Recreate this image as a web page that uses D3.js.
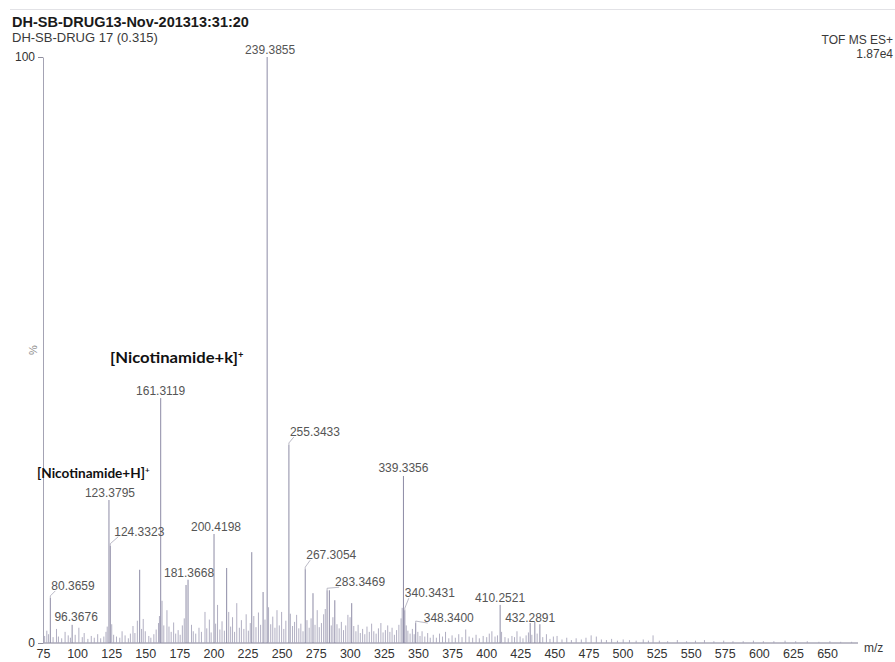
<!DOCTYPE html>
<html>
<head>
<meta charset="utf-8">
<script src="https://cdn.jsdelivr.net/npm/d3@7"></script>
<style>
body { margin: 0; background: #fff; }
svg text { font-family: "Liberation Sans", Arial, sans-serif; }
</style>
</head>
<body>
<div id="svgDiv"></div>
<script>
//header texts
var titleText = "DH-SB-DRUG13-Nov-201313:31:20";
var subText = "DH-SB-DRUG 17 (0.315)";
var modeText = "TOF MS ES+";
var scaleText = "1.87e4";

//axis ticks
var xTicks = [75, 100, 125, 150, 175, 200, 225, 250, 275, 300, 325, 350, 375, 400, 425, 450, 475, 500, 525, 550, 575, 600, 625, 650];
var yTicks = [0, 100];

//labelled and major peaks  [m/z, relative intensity %]
var mainPeaks = [
    [80.3659, 7.7], [96.3676, 3.1], [123.3795, 24.4], [124.3323, 16.6], [145.9, 12.5],
    [161.3119, 41.8], [179.9, 9.9], [181.3668, 10.8], [200.4198, 18.6], [209.7, 12.8],
    [228.1, 15.5], [236.4, 8.7], [239.3855, 100], [255.3433, 33.8], [267.3054, 12.6],
    [273.0, 8.5], [283.3469, 9.0], [285.0, 9.0], [289.0, 7.3], [301.4, 6.8],
    [339.3356, 28.5], [340.3431, 5.6], [348.3400, 3.4], [410.2521, 6.5],
    [432.2891, 3.4], [435.7, 3.6], [439.4, 3.2]
];

//small noise peaks  [m/z, %]
var minorPeaks = [
    [76.2,1.2],[77.8,2.1],[79.1,1.5],[82.4,1.0],[84.9,2.4],[86.3,1.1],[88.7,0.8],[91.2,1.9],[93.5,1.3],[95.1,0.9],
    [98.6,1.4],[101.3,2.6],[103.8,1.0],[105.2,1.7],[107.9,0.7],[110.4,1.2],[112.6,0.9],[115.1,1.5],[117.3,0.8],[119.6,1.1],
    [121.2,1.9],[122.1,2.8],[125.4,3.2],[126.8,1.4],[128.9,1.1],[131.3,0.9],[133.0,2.0],[135.2,1.3],[137.6,0.8],[139.1,1.6],
    [141.0,2.9],[142.4,1.7],[144.2,3.8],[147.3,2.4],[148.5,4.1],[150.0,2.0],[152.6,1.2],[154.1,0.9],[156.3,1.5],[158.0,2.3],
    [159.7,3.4],[160.4,4.6],[162.3,7.2],[163.6,3.0],[165.9,5.6],[167.4,2.8],[169.0,1.9],[170.8,3.5],[172.3,1.6],[174.1,2.2],
    [175.6,1.4],[177.2,3.0],[178.6,4.2],[183.9,3.1],[185.2,2.0],[187.0,1.6],[189.4,2.6],[191.2,1.9],[193.8,5.3],[195.1,2.5],
    [197.0,4.0],[198.3,1.8],[201.6,3.3],[203.0,6.5],[204.7,2.3],[206.3,3.7],[208.0,2.1],[211.2,5.3],[212.6,2.8],[214.0,4.4],
    [215.5,1.9],[217.1,6.8],[219.0,2.6],[220.5,3.9],[222.3,2.4],[224.0,4.9],[225.6,2.1],[227.0,3.4],[229.6,4.6],[231.2,2.7],
    [233.0,5.2],[234.6,3.1],[237.8,4.0],[240.4,6.1],[242.0,3.2],[243.5,4.5],[245.1,2.6],[246.6,5.6],[248.3,3.0],[250.0,5.3],
    [251.6,2.4],[253.1,3.8],[256.4,5.0],[258.0,2.9],[259.5,3.6],[261.0,4.8],[262.6,2.5],[264.1,3.3],[265.7,2.0],[268.6,3.9],
    [270.2,2.6],[271.6,4.2],[274.5,3.1],[276.1,5.6],[277.6,2.7],[279.2,3.4],[280.8,4.9],[282.0,5.8],[286.4,3.0],[287.6,4.4],
    [290.6,3.2],[292.2,2.5],[293.8,3.6],[295.4,2.2],[297.0,3.0],[298.6,4.8],[300.2,4.4],[302.9,2.9],[304.5,2.0],[306.1,3.1],
    [307.7,1.7],[309.4,2.4],[311.0,1.5],[312.6,2.8],[314.3,1.9],[316.0,3.3],[317.6,2.0],[319.3,1.6],[321.0,2.5],[322.8,3.4],
    [324.4,1.8],[326.1,2.2],[327.8,3.0],[329.4,1.9],[331.0,2.6],[332.7,1.4],[334.3,2.2],[336.0,3.1],[337.6,4.2],[338.4,6.0],
    [341.4,3.0],[342.6,2.1],[344.2,1.6],[345.9,2.4],[347.2,1.5],[349.9,1.9],[351.5,1.2],[353.0,2.0],[355.0,1.1],[357.1,1.7],
    [359.0,0.9],[361.2,1.4],[363.5,0.9],[365.8,1.6],[368.0,1.1],[370.2,1.9],[372.6,0.8],[375.0,1.3],[377.4,0.9],[379.9,1.5],
    [382.3,1.0],[385.0,2.3],[387.5,1.1],[390.1,0.9],[392.6,1.4],[395.0,0.8],[397.8,1.2],[400.4,1.0],[402.3,1.6],[404.2,2.0],
    [406.5,1.1],[408.3,1.3],[411.3,1.9],[413.8,1.0],[416.2,0.8],[418.9,1.2],[420.8,1.0],[422.6,2.0],[424.9,1.1],[427.0,0.8],
    [429.3,1.3],[431.0,1.8],[433.5,1.4],[437.4,1.6],[441.5,1.0],[444.2,1.5],[446.8,0.7],[449.3,1.1],[452.0,1.2],[455.6,0.6],
    [459.1,0.9],[462.5,0.5],[466.0,0.8],[469.8,0.6],[473.2,0.9],[477.0,1.3],[480.8,1.1],[484.5,0.6],[488.2,0.5],[492.0,0.7],
    [496.3,0.4],[500.5,0.6],[505.1,0.5],[510.0,0.4],[515.2,0.6],[519.0,0.4],[522.4,1.3],[527.0,0.4],[533.1,0.3],[540.2,0.5],
    [547.0,0.3],[553.5,0.4],[560.1,0.5],[567.0,0.3],[574.2,0.4],[581.0,0.3],[588.5,0.3],[596.0,0.4],[603.3,0.3],[611.0,0.3],
    [619.2,0.4],[627.0,0.3],[635.5,0.3],[644.0,0.2],[652.1,0.3],[660.0,0.2],[668.0,0.2]
];

//peaks that carry an m/z label
var labelledMz = [239.3855, 161.3119, 255.3433, 339.3356, 123.3795, 124.3323, 200.4198, 181.3668,
                  267.3054, 283.3469, 340.3431, 348.3400, 410.2521, 432.2891, 80.3659, 96.3676];

//annotations  [text, m/z of the peak they name]
var annotations = [["[Nicotinamide+k]", 161.3119], ["[Nicotinamide+H]", 123.3795]];

//label placement relative to peak top (layout only)
var labelLayout = {
    "239.3855": {anchor: "middle", dx: 3, dy: -7},
    "161.3119": {anchor: "middle", dx: 0, dy: -7},
    "255.3433": {anchor: "start", dx: 1, dy: -13, leader: true},
    "339.3356": {anchor: "middle", dx: 0, dy: -8},
    "123.3795": {anchor: "middle", dx: 1, dy: -7},
    "124.3323": {anchor: "start", dx: 4, dy: -14, leader: true},
    "200.4198": {anchor: "middle", dx: 2, dy: -7},
    "181.3668": {anchor: "middle", dx: 1, dy: -7},
    "267.3054": {anchor: "start", dx: 1, dy: -14, leader: true},
    "283.3469": {anchor: "start", dx: 8, dy: -8, leader: true},
    "340.3431": {anchor: "start", dx: 0, dy: -17, leader: true},
    "348.3400": {anchor: "start", dx: 8, dy: -5, leader: true},
    "410.2521": {anchor: "middle", dx: 0, dy: -7},
    "432.2891": {anchor: "middle", dx: 0, dy: -5},
    "80.3659": {anchor: "start", dx: 1, dy: -12, leader: true},
    "96.3676": {anchor: "middle", dx: 4, dy: -8}
};

var svg, xScale, yScale;
var svgWidth = 895, svgHeight = 662;
var peakColor = "#8d8ba5";
var grassColor = "#a8a6bb";

document.addEventListener('DOMContentLoaded', function(){
    svg = d3.select("#svgDiv")
        .append("svg")
        .attr("width", svgWidth)
        .attr("height", svgHeight);

    setScales();
    drawFrame();
    drawAxes();
    drawPeaks();
    drawLabels();
});

// m/z and % scales
function setScales(){
    xScale = d3.scaleLinear()
        .domain([75, 672.7])
        .range([43, 858]);
    yScale = d3.scaleLinear()
        .domain([0, 100])
        .range([643, 57]);
}

// header texts and faint sheet edge
function drawFrame(){
    svg.append("line")
        .attr("x1", 10).attr("x2", svgWidth)
        .attr("y1", 9.5).attr("y2", 9.5)
        .attr("stroke", "#e2e2e6");

    svg.append("text")
        .attr("x", 12).attr("y", 27)
        .attr("font-size", 14.5).attr("font-weight", "bold")
        .attr("fill", "#1a1a1a")
        .text(titleText);
    svg.append("text")
        .attr("x", 12).attr("y", 42)
        .attr("font-size", 13).attr("fill", "#3a3a3a")
        .text(subText);
    svg.append("text")
        .attr("x", 893).attr("y", 44)
        .attr("text-anchor", "end")
        .attr("font-size", 12).attr("fill", "#3a3a3a")
        .text(modeText);
    svg.append("text")
        .attr("x", 893).attr("y", 58)
        .attr("text-anchor", "end")
        .attr("font-size", 12).attr("fill", "#3a3a3a")
        .text(scaleText);
}

function drawAxes(){
    //x axis: baseline drawn by hand, labels from d3
    var xAxis = d3.axisBottom(xScale)
        .tickValues(xTicks)
        .tickSize(0)
        .tickPadding(6);
    svg.append("g")
        .attr("transform", "translate(0," + yScale(0) + ")")
        .call(xAxis)
        .call(g => g.select(".domain").remove())
        .selectAll("text")
        .attr("font-size", 12.5)
        .attr("fill", "#333")
        .style("font-family", '"Liberation Sans", Arial, sans-serif');

    svg.append("line")
        .attr("x1", xScale(75)).attr("x2", 858)
        .attr("y1", yScale(0)).attr("y2", yScale(0))
        .attr("stroke", "#7f7d92");

    svg.append("text")
        .attr("x", 864).attr("y", 652)
        .attr("font-size", 12).attr("fill", "#3a3a3a")
        .text("m/z");

    //y axis
    var yAxis = d3.axisLeft(yScale)
        .tickValues(yTicks)
        .tickSize(5)
        .tickSizeOuter(0)
        .tickPadding(3);
    var gy = svg.append("g")
        .attr("transform", "translate(" + xScale(75) + ",0)")
        .call(yAxis);
    gy.select(".domain").attr("stroke", "#a4a3b4");
    gy.selectAll(".tick line").attr("stroke", "#8f8e9e");
    gy.selectAll("text")
        .attr("font-size", 12)
        .attr("fill", "#333")
        .style("font-family", '"Liberation Sans", Arial, sans-serif');

    svg.append("text")
        .attr("transform", "translate(37," + yScale(50) + ") rotate(-90)")
        .attr("text-anchor", "middle")
        .attr("font-size", 11).attr("fill", "#888")
        .text("%");
}

// Draws every peak as a stick from the baseline
function drawPeaks(){
    svg.append("g")
        .selectAll("line")
        .data(minorPeaks)
        .enter().append("line")
        .attr("x1", d => xScale(d[0]))
        .attr("x2", d => xScale(d[0]))
        .attr("y1", yScale(0))
        .attr("y2", d => yScale(d[1]))
        .attr("stroke", grassColor)
        .attr("stroke-width", 0.9);

    svg.append("g")
        .selectAll("line")
        .data(mainPeaks)
        .enter().append("line")
        .attr("x1", d => xScale(d[0]))
        .attr("x2", d => xScale(d[0]))
        .attr("y1", yScale(0))
        .attr("y2", d => yScale(d[1]))
        .attr("stroke", peakColor)
        .attr("stroke-width", 1);
}

function drawLabels(){
    var lookup = {};
    mainPeaks.forEach(p => lookup[p[0].toFixed(4)] = p);

    var g = svg.append("g");
    labelledMz.forEach(function(mz){
        var key = mz.toFixed(4);
        var p = lookup[key];
        var lay = labelLayout[key];
        var px = xScale(p[0]);
        var top = yScale(p[1]);
        var tx = px + lay.dx;
        var ty = top + lay.dy;

        if (lay.leader) {
            g.append("polyline")
                .attr("points", [[px, top], [px, top - 2], [tx + 4, ty + 5]].map(q => q.join(",")).join(" "))
                .attr("fill", "none")
                .attr("stroke", "#a9a8b8")
                .attr("stroke-width", 0.8);
        }
        g.append("text")
            .attr("x", tx).attr("y", ty)
            .attr("dy", "0.35em")
            .attr("text-anchor", lay.anchor)
            .attr("font-size", 12)
            .attr("fill", "#555")
            .text(key);
    });

    //compound annotations above their peaks
    var annoPos = [
        {x: 110, y: 363, size: 14.5, len: 128},
        {x: 37, y: 478, size: 12.5, len: 108}
    ];
    annotations.forEach(function(a, i){
        var pos = annoPos[i];
        var t = svg.append("text")
            .attr("x", pos.x).attr("y", pos.y)
            .attr("font-size", pos.size)
            .attr("font-weight", "bold")
            .attr("fill", "#111")
            .style("font-family", "Lato, 'Open Sans', sans-serif");
        t.append("tspan")
            .attr("textLength", pos.len)
            .attr("lengthAdjust", "spacingAndGlyphs")
            .text(a[0]);
        t.append("tspan")
            .attr("dy", -5)
            .attr("font-size", pos.size * 0.65)
            .text("+");
    });
}
</script>
</body>
</html>
